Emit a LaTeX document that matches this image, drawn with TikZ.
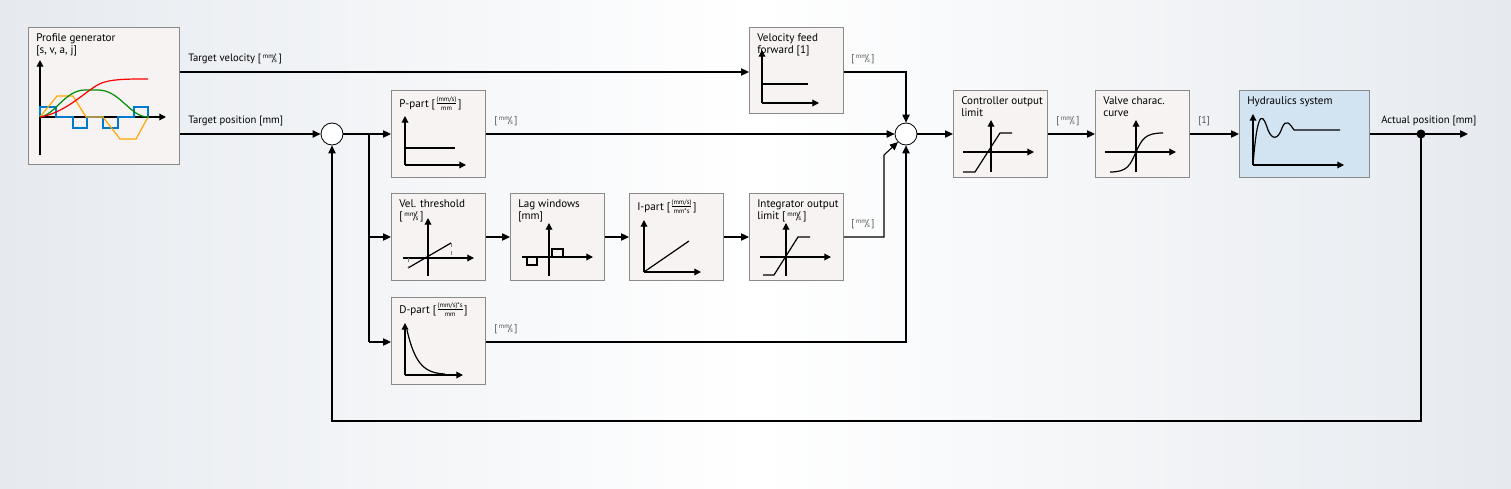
\documentclass[tikz,border=0pt]{standalone}
\usepackage{fontspec}
\setmainfont{PT Sans}
\usetikzlibrary{arrows.meta,calc}
\definecolor{bx}{HTML}{F7F3F3}
\definecolor{bd}{HTML}{8A8A8A}
\definecolor{hy}{HTML}{D2E3F1}
\definecolor{lb}{HTML}{555555}
\definecolor{bgc}{HTML}{E6EAEF}
\newcommand{\ums}{[\,{\raisebox{0.5ex}{\fontsize{5}{5}\selectfont mm}\!/\!\raisebox{-0.2ex}{\fontsize{5}{5}\selectfont s}}\,]}
\newcommand{\fr}[2]{[\raisebox{0.3ex}{$\frac{\mbox{\fontsize{5}{5}\selectfont #1}}{\mbox{\fontsize{5}{5}\selectfont #2}}$}]}
\begin{document}
\begin{tikzpicture}[x=0.75pt,y=-0.75pt,
  blk/.style={draw=bd,fill=bx,line width=0.7pt,anchor=north west,inner sep=0},
  ttl/.style={anchor=north west,font=\fontsize{8.3}{9.3}\selectfont,align=left,inner sep=0},
  ul/.style={font=\fontsize{7.5}{8}\selectfont,text=lb,inner sep=0},
  wl/.style={font=\fontsize{8}{9}\selectfont,inner sep=0},
  ar/.style={-{Triangle[length=6pt,width=5.5pt]},line width=0.8pt},
  ln/.style={line width=0.8pt},
  ax/.style={-{Triangle[length=5pt,width=5pt]},line width=0.9pt},
  g/.style={line width=0.9pt},
  sm/.style={circle,draw=black,fill=white,minimum size=16.5pt,inner sep=0,line width=0.6pt}]
\shade[left color=bgc,right color=bgc,middle color=white,shading angle=90] (0,0) rectangle (1511,489);
\useasboundingbox (0,0) rectangle (1511,489);
\def\B#1#2#3#4#5#6{\node[blk,#6,minimum width=#4*0.75pt,minimum height=#5*0.75pt] (#1) at (#2,#3) {};}
\B{pg}{28}{27}{151}{137}{}
\B{pp}{391}{90}{94}{87}{}
\B{vt}{391}{193}{94}{87}{}
\B{lw}{510}{193}{94}{87}{}
\B{ip}{629}{193}{94}{87}{}
\B{io}{749}{193}{94}{87}{}
\B{dp}{391}{297}{94}{87}{}
\B{vf}{749}{27}{94}{86}{}
\B{co}{953}{90}{94}{87}{}
\B{vc}{1095}{90}{94}{87}{}
\B{hs}{1239}{90}{130}{87}{fill=hy}
\node[ttl] at (36,33) {Profile generator\\{[s, v, a, j]}};
\node[ttl] at (399,96) {P-part \fr{(mm/s)}{mm}};
\node[ttl] at (399,199) {Vel. threshold\\\ums};
\node[ttl] at (518,199) {Lag windows\\{[mm]}};
\node[ttl] at (637,199) {I-part \fr{(mm/s)}{mm*s}};
\node[ttl] at (757,199) {Integrator output\\limit \ums};
\node[ttl] at (399,302) {D-part \fr{(mm/s)*s}{mm}};
\node[ttl] at (757,33) {Velocity feed\\forward [1]};
\node[ttl] at (961,96) {Controller output\\limit};
\node[ttl] at (1103,96) {Valve charac.\\curve};
\node[ttl] at (1247,96) {Hydraulics system};
\node[sm] (s1) at (332,134) {};
\node[sm] (s2) at (906,134) {};
\coordinate (br) at (369,134);
\coordinate (dot) at (1421,134);
\coordinate (out) at (1468,134);
% wires
\draw[ar] (pg.east |- 0,72) -- (vf.west |- 0,72);
\node[wl,anchor=south west] at (188,64) {Target velocity \ums};
\draw[ar] (pg.east |- 0,134) -- (s1);
\node[wl,anchor=south west] at (188,126) {Target position [mm]};
\draw[ar] (s1) -- (pp.west |- s1);
\draw[ln] (br) -- (369,342);
\draw[ar] (369,237) -- (vt.west |- 0,237);
\draw[ar] (369,342) -- (dp.west |- 0,342);
\draw[ar] (vt.east |- 0,237) -- (lw.west |- 0,237);
\draw[ar] (lw.east |- 0,237) -- (ip.west |- 0,237);
\draw[ar] (ip.east |- 0,237) -- (io.west |- 0,237);
\draw[ar] (pp.east |- s1) -- (s2);
\node[ul,anchor=south west] at (494,126) {\ums};
\draw[ar] (vf.east |- 0,72) -| (s2);
\node[ul,anchor=south west] at (851,64) {\ums};
\draw[ar] (io.east |- 0,237) -- (884,237) -- (884,155) -- (s2.south west);
\node[ul,anchor=south west] at (851,229) {\ums};
\draw[ar] (dp.east |- 0,342) -| (s2);
\node[ul,anchor=south west] at (494,334) {\ums};
\draw[ar] (s2) -- (co.west |- s2);
\draw[ar] (co.east |- s2) -- (vc.west |- s2);
\node[ul,anchor=south west] at (1056,126) {\ums};
\draw[ar] (vc.east |- s2) -- (hs.west |- s2);
\node[ul,anchor=south west] at (1198,126) {[1]};
\draw[ar] (hs.east |- s2) -- (out);
\node[wl,anchor=south west] at (1381,126) {Actual position [mm]};
\fill (dot) circle (4.5);
\draw[ar] (dot) -- (1421,421) -- (332,421) -- (s1);
% graphs
\draw[ax] (40,155) -- (40,60); \draw[ax] (40,117) -- (166,117);
\draw[g,color=blue!40!cyan!80!black] (40,117)--(40,107)--(56,107)--(56,117)--(73,117)--(73,128)--(87,128)--(87,117)--(103,117)--(103,128)--(118,128)--(118,117)--(134,117)--(134,107)--(148,107)--(148,117);
\draw[g,color=orange!70!yellow] (40,117)--(57,96)--(73,96)--(86,117)--(103,117)--(120,139)--(136,139)--(148,117);
\draw[g,color=green!55!black] (40,117) .. controls (55,115) and (65,90) .. (85,90) -- (98,90) .. controls (120,90) and (130,117) .. (148,117);
\draw[g,color=red] (40,117) .. controls (70,112) and (90,85) .. (105,82) .. controls (115,79) and (130,79) .. (148,79);
\draw[ax] (405,165) -- (405,116); \draw[ax] (405,165) -- (466,165); \draw[g] (405,148)--(455,148);
\draw[ax] (403,258)--(474,258); \draw[ax] (428,276)--(428,218); \draw[g] (408,268)--(451,243);
\draw[gray,dashed,line width=0.5pt] (408,258)--(408,268) (451,243)--(451,258);
\draw[ax] (522,257)--(593,257); \draw[ax] (549,276)--(549,223);
\draw[g] (527,257)--(527,265)--(537,265)--(537,257) (552,257)--(552,249)--(563,249)--(563,257);
\draw[ax] (644,272)--(644,220); \draw[ax] (644,272)--(701,272); \draw[g] (644,272)--(689,241);
\draw[ax] (760,257)--(831,257); \draw[ax] (786,276)--(786,223); \draw[g] (763,275)--(774,275)--(798,237)--(810,237);
\draw[ax] (405,375)--(405,323); \draw[ax] (405,375)--(463,375); \draw[g] (407,330) .. controls (415,365) and (425,373) .. (445,374);
\draw[ax] (762,103)--(762,50); \draw[ax] (762,103)--(819,103); \draw[g] (762,84)--(808,84);
\draw[ax] (963,152)--(1034,152); \draw[ax] (991,172)--(991,120); \draw[g] (963,172)--(975,172)--(1000,133)--(1012,133);
\draw[ax] (1105,152)--(1176,152); \draw[ax] (1136,172)--(1136,120); \draw[g] (1110,172) .. controls (1128,172) and (1130,165) .. (1136,152) .. controls (1142,139) and (1145,133) .. (1163,133);
\draw[ax] (1253,165)--(1253,114); \draw[ax] (1253,165)--(1344,165);
\draw[g] (1253,165) .. controls (1258,100) and (1264,118) .. (1268,130) .. controls (1272,140) and (1278,140) .. (1282,128) .. controls (1286,118) and (1290,124) .. (1294,130) -- (1340,130);
\end{tikzpicture}
\end{document}
